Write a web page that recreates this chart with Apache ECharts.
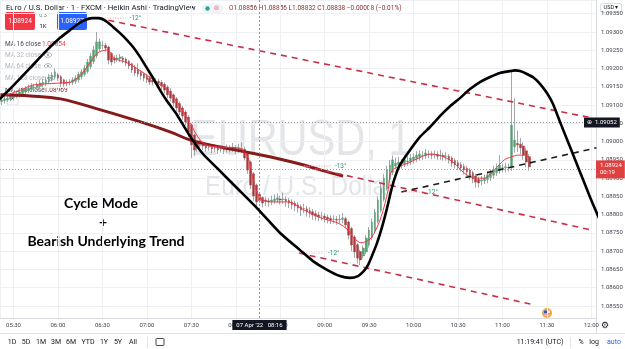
<!DOCTYPE html>
<html><head><meta charset="utf-8">
<script src="https://cdn.jsdelivr.net/npm/echarts/dist/echarts.min.js"></script>
<style>html,body{margin:0;padding:0;background:#fff;}#c{width:625px;height:349px;}</style>
</head><body><div id="c"></div>
<script>
// ---- Heikin Ashi candles (2-minute steps) ----
const candleTimes = [
"05:22","05:24","05:26","05:28","05:30","05:32","05:34","05:36","05:38","05:40",
"05:42","05:44","05:46","05:48","05:50","05:52","05:54","05:56","05:58","06:00",
"06:02","06:04","06:06","06:08","06:10","06:12","06:14","06:16","06:18","06:20",
"06:22","06:24","06:26","06:28","06:30","06:32","06:34","06:36","06:38","06:40",
"06:42","06:44","06:46","06:48","06:50","06:52","06:54","06:56","06:58","07:00",
"07:02","07:04","07:06","07:08","07:10","07:12","07:14","07:16","07:18","07:20",
"07:22","07:24","07:26","07:28","07:30","07:32","07:34","07:36","07:38","07:40",
"07:42","07:44","07:46","07:48","07:50","07:52","07:54","07:56","07:58","08:00",
"08:02","08:04","08:06","08:08","08:10","08:12","08:14","08:16","08:18","08:20",
"08:22","08:24","08:26","08:28","08:30","08:32","08:34","08:36","08:38","08:40",
"08:42","08:44","08:46","08:48","08:50","08:52","08:54","08:56","08:58","09:00",
"09:02","09:04","09:06","09:08","09:10","09:12","09:14","09:16","09:18","09:20",
"09:22","09:24","09:26","09:28","09:30","09:32","09:34","09:36","09:38","09:40",
"09:42","09:44","09:46","09:48","09:50","09:52","09:54","09:56","09:58","10:00",
"10:02","10:04","10:06","10:08","10:10","10:12","10:14","10:16","10:18","10:20",
"10:22","10:24","10:26","10:28","10:30","10:32","10:34","10:36","10:38","10:40",
"10:42","10:44","10:46","10:48","10:50","10:52","10:54","10:56","10:58","11:00",
"11:02","11:04","11:06","11:08","11:10","11:12","11:14","11:16","11:18"];
const haOpen = [
1.09110,1.09112,1.09114,1.09116,1.09120,1.09124,1.09127,1.09131,1.09136,1.09140,
1.09143,1.09147,1.09148,1.09151,1.09155,1.09159,1.09164,1.09170,1.09176,1.09183,
1.09178,1.09169,1.09163,1.09161,1.09162,1.09165,1.09169,1.09177,1.09184,1.09192,
1.09205,1.09219,1.09235,1.09254,1.09263,1.09263,1.09259,1.09241,1.09229,1.09226,
1.09227,1.09229,1.09226,1.09220,1.09213,1.09204,1.09196,1.09190,1.09185,1.09179,
1.09174,1.09168,1.09165,1.09165,1.09162,1.09157,1.09149,1.09138,1.09128,1.09117,
1.09104,1.09092,1.09081,1.09067,1.09046,1.09018,1.08997,1.08990,1.08990,1.08989,
1.08986,1.08985,1.08982,1.08982,1.08979,1.08979,1.08978,1.08980,1.08980,1.08982,
1.08979,1.08981,1.08979,1.08967,1.08944,1.08912,1.08881,1.08856,1.08847,1.08840,
1.08838,1.08836,1.08838,1.08840,1.08843,1.08841,1.08842,1.08839,1.08835,1.08831,
1.08827,1.08822,1.08817,1.08816,1.08811,1.08808,1.08803,1.08799,1.08796,1.08796,
1.08793,1.08790,1.08787,1.08787,1.08786,1.08787,1.08789,1.08780,1.08762,1.08739,
1.08718,1.08699,1.08687,1.08698,1.08717,1.08737,1.08758,1.08782,1.08811,1.08842,
1.08871,1.08896,1.08916,1.08933,1.08937,1.08940,1.08939,1.08944,1.08945,1.08950,
1.08954,1.08958,1.08962,1.08962,1.08965,1.08965,1.08964,1.08965,1.08962,1.08962,
1.08960,1.08960,1.08955,1.08948,1.08942,1.08937,1.08932,1.08927,1.08922,1.08915,
1.08906,1.08897,1.08892,1.08893,1.08896,1.08902,1.08908,1.08915,1.08921,1.08928,
1.08928,1.08929,1.08928,1.08986,1.08995,1.08993,1.08988,1.08975,1.08959];
const haClose = [
1.09114,1.09117,1.09119,1.09125,1.09128,1.09130,1.09136,1.09141,1.09144,1.09147,
1.09152,1.09149,1.09155,1.09160,1.09163,1.09169,1.09177,1.09182,1.09191,1.09174,
1.09160,1.09158,1.09160,1.09163,1.09169,1.09174,1.09185,1.09191,1.09201,1.09218,
1.09234,1.09251,1.09273,1.09273,1.09264,1.09256,1.09223,1.09218,1.09223,1.09229,
1.09232,1.09223,1.09215,1.09207,1.09196,1.09188,1.09185,1.09180,1.09174,1.09169,
1.09163,1.09163,1.09166,1.09160,1.09152,1.09141,1.09128,1.09119,1.09106,1.09092,
1.09081,1.09070,1.09054,1.09026,1.08991,1.08977,1.08983,1.08991,1.08988,1.08983,
1.08985,1.08980,1.08983,1.08977,1.08980,1.08977,1.08983,1.08980,1.08985,1.08977,
1.08983,1.08977,1.08955,1.08922,1.08881,1.08851,1.08835,1.08838,1.08832,1.08837,
1.08835,1.08840,1.08843,1.08846,1.08840,1.08843,1.08837,1.08832,1.08827,1.08824,
1.08818,1.08813,1.08816,1.08807,1.08805,1.08799,1.08796,1.08794,1.08796,1.08791,
1.08788,1.08785,1.08788,1.08785,1.08788,1.08791,1.08772,1.08744,1.08717,1.08698,
1.08681,1.08676,1.08709,1.08736,1.08758,1.08780,1.08807,1.08840,1.08873,1.08900,
1.08922,1.08936,1.08950,1.08941,1.08944,1.08939,1.08950,1.08947,1.08955,1.08958,
1.08963,1.08966,1.08963,1.08969,1.08966,1.08963,1.08966,1.08960,1.08963,1.08958,
1.08960,1.08950,1.08941,1.08936,1.08933,1.08928,1.08922,1.08917,1.08909,1.08898,
1.08889,1.08887,1.08895,1.08900,1.08909,1.08914,1.08922,1.08928,1.08936,1.08928,
1.08931,1.08928,1.09045,1.09004,1.08991,1.08983,1.08963,1.08944,1.08931];
const haLow = [
1.09100,1.09104,1.09108,1.09110,1.09112,1.09118,1.09120,1.09125,1.09130,1.09133,
1.09138,1.09140,1.09141,1.09144,1.09148,1.09152,1.09158,1.09164,1.09170,1.09166,
1.09150,1.09150,1.09152,1.09154,1.09155,1.09158,1.09162,1.09170,1.09178,1.09186,
1.09198,1.09212,1.09228,1.09248,1.09252,1.09246,1.09212,1.09208,1.09214,1.09218,
1.09218,1.09214,1.09206,1.09198,1.09188,1.09180,1.09176,1.09170,1.09165,1.09160,
1.09155,1.09154,1.09156,1.09150,1.09142,1.09132,1.09118,1.09110,1.09096,1.09082,
1.09072,1.09060,1.09044,1.09012,1.08955,1.08960,1.08972,1.08978,1.08976,1.08972,
1.08975,1.08968,1.08972,1.08966,1.08970,1.08966,1.08970,1.08970,1.08972,1.08966,
1.08970,1.08968,1.08948,1.08912,1.08870,1.08838,1.08820,1.08832,1.08820,1.08824,
1.08822,1.08826,1.08830,1.08832,1.08828,1.08830,1.08822,1.08818,1.08814,1.08810,
1.08806,1.08796,1.08804,1.08794,1.08792,1.08786,1.08784,1.08782,1.08784,1.08778,
1.08776,1.08774,1.08776,1.08772,1.08776,1.08776,1.08762,1.08732,1.08700,1.08682,
1.08666,1.08662,1.08680,1.08692,1.08710,1.08730,1.08752,1.08776,1.08806,1.08836,
1.08866,1.08890,1.08908,1.08926,1.08928,1.08926,1.08930,1.08934,1.08936,1.08940,
1.08944,1.08948,1.08950,1.08952,1.08954,1.08952,1.08954,1.08950,1.08950,1.08948,
1.08948,1.08940,1.08930,1.08926,1.08922,1.08918,1.08910,1.08906,1.08896,1.08886,
1.08874,1.08874,1.08880,1.08884,1.08886,1.08892,1.08898,1.08906,1.08912,1.08916,
1.08916,1.08918,1.08920,1.08970,1.08972,1.08966,1.08950,1.08930,1.08920];
const haHigh = [
1.09122,1.09125,1.09128,1.09133,1.09136,1.09140,1.09142,1.09148,1.09152,1.09156,
1.09160,1.09158,1.09162,1.09168,1.09172,1.09178,1.09185,1.09190,1.09200,1.09188,
1.09182,1.09172,1.09170,1.09171,1.09176,1.09182,1.09192,1.09198,1.09210,1.09226,
1.09242,1.09262,1.09300,1.09282,1.09275,1.09270,1.09262,1.09245,1.09236,1.09238,
1.09240,1.09234,1.09230,1.09224,1.09216,1.09210,1.09214,1.09196,1.09190,1.09186,
1.09180,1.09176,1.09174,1.09172,1.09168,1.09162,1.09154,1.09146,1.09132,1.09122,
1.09110,1.09098,1.09086,1.09072,1.09050,1.09022,1.09004,1.09006,1.08998,1.08996,
1.08995,1.08992,1.08992,1.08990,1.08988,1.08986,1.08992,1.08990,1.08996,1.08990,
1.08994,1.08998,1.08986,1.08972,1.08948,1.08916,1.08885,1.08856,1.08850,1.08848,
1.08846,1.08852,1.08856,1.08858,1.08852,1.08860,1.08850,1.08846,1.08842,1.08838,
1.08834,1.08828,1.08830,1.08824,1.08820,1.08816,1.08812,1.08808,1.08808,1.08804,
1.08800,1.08798,1.08798,1.08796,1.08800,1.08804,1.08794,1.08784,1.08766,1.08744,
1.08722,1.08704,1.08716,1.08744,1.08766,1.08790,1.08816,1.08850,1.08884,1.08912,
1.08934,1.08950,1.08962,1.08956,1.08958,1.08952,1.08962,1.08960,1.08966,1.08968,
1.08974,1.08976,1.08974,1.08980,1.08976,1.08974,1.08976,1.08974,1.08978,1.08970,
1.08972,1.08966,1.08960,1.08954,1.08950,1.08944,1.08940,1.08934,1.08928,1.08920,
1.08912,1.08904,1.08906,1.08910,1.08918,1.08924,1.08934,1.08940,1.08963,1.08940,
1.08942,1.08940,1.09196,1.09119,1.09030,1.09010,1.08998,1.08984,1.08966];

// ---- Moving averages (minutes of day, price) ----
const ma16Minutes = [321.2,325.9,334.7,343.5,359.7,368.5,375.3,382.0,386.8,393.5,397.6,407.1,417.9,427.4,434.1,440.8,449.6,454.4,459.8,469.9,481.4,488.2,492.2,497.0,503.7,515.2,526.0,537.5,549.0,555.8,559.8,564.5,571.3,578.1,582.8,584.8,589.5,596.3,605.1,611.9,620.6,627.4,634.2,640.9,647.7,654.4,661.2,665.9,670.7,674.7,679.4];
const ma16Values = [1.09122,1.09128,1.09141,1.09155,1.09160,1.09163,1.09182,1.09218,1.09243,1.09251,1.09229,1.09215,1.09188,1.09160,1.09141,1.09106,1.09048,1.09013,1.08991,1.08985,1.08983,1.08958,1.08887,1.08843,1.08835,1.08835,1.08813,1.08791,1.08777,1.08758,1.08736,1.08723,1.08736,1.08794,1.08868,1.08917,1.08931,1.08941,1.08958,1.08966,1.08958,1.08941,1.08914,1.08900,1.08900,1.08922,1.08950,1.08958,1.08963,1.08963,1.08952];
const ma256Minutes = [321.2,341.5,361.8,388.8,415.8,436.1,449.6,469.9,490.2,503.7,526.0,537.5,552.4];
const ma256Values = [1.09128,1.09125,1.09117,1.09087,1.09054,1.09026,1.09004,1.08985,1.08969,1.08958,1.08936,1.08922,1.08906];

// ---- Drawn cycle curve (minutes of day, price) ----
const cycleMinutes = [320.9,331.0,341.1,351.3,361.4,368.1,373.5,378.3,383.0,387.7,392.4,397.2,401.9,406.6,410.7,415.4,420.1,424.2,428.9,433.6,440.4,449.1,457.9,467.3,480.8,494.3,509.9,523.4,532.1,541.6,550.3,557.1,562.5,566.5,569.2,571.9,575.3,578.7,582.1,584.8,587.5,590.8,597.6,604.3,611.1,617.8,624.6,631.3,638.1,644.8,651.6,658.3,665.1,668.4,671.8,676.5,681.3,685.3,690.0,694.1,698.8,705.6,712.3,719.1,725.8,730.5];
const cyclePrices = [1.09117,1.09158,1.09201,1.09245,1.09284,1.09305,1.09322,1.09333,1.09338,1.09338,1.09330,1.09314,1.09297,1.09278,1.09259,1.09232,1.09201,1.09174,1.09141,1.09111,1.09073,1.09015,1.08966,1.08928,1.08873,1.08818,1.08750,1.08703,1.08673,1.08649,1.08632,1.08627,1.08632,1.08646,1.08662,1.08687,1.08722,1.08766,1.08818,1.08865,1.08903,1.08936,1.08977,1.09013,1.09040,1.09070,1.09097,1.09119,1.09144,1.09163,1.09177,1.09188,1.09193,1.09195,1.09193,1.09185,1.09174,1.09158,1.09133,1.09103,1.09054,1.08985,1.08917,1.08848,1.08785,1.08747];

// ---- Drawn trend lines ----
const upperTrendMinutes = [386.8, 720.0], upperTrendPrices = [1.09338, 1.09065];
const middleTrendMinutes = [526.0, 720.0], middleTrendPrices = [1.08933, 1.08758];
const lowerTrendMinutes = [522.6, 681.5], lowerTrendPrices = [1.08695, 1.08553];
const blackTrendMinutes = [591.6, 723.4], blackTrendPrices = [1.08862, 1.08983];
const angleLabels = ["-12°", "-13°", "-12°", "12°"];
const angleEndMinutes = [405.7, 544.2, 539.5, 607.1];

// ---- Price markers ----
const lastPrice = 1.08924, lastPriceTimer = "00:19";
const crossPrice = 1.09052, crossMinute = 496, crossLabel = "07 Apr '22   08:16";

const toMin = s => { const p = s.split(':').map(Number); return p[0]*60 + p[1]; };
const fmtTime = v => { const h = Math.floor(v/60), m = Math.round(v - h*60); return String(h).padStart(2,'0') + ':' + String(m).padStart(2,'0'); };
const pts = (xs, ys) => xs.map((x,i) => [x, ys[i]]);

const candles = candleTimes.map((t,i) => [toMin(t), haOpen[i], haClose[i], haLow[i], haHigh[i]]);
const bodies = candleTimes.map((t,i) => [toMin(t), haOpen[i], haClose[i], Math.min(haOpen[i],haClose[i]), Math.max(haOpen[i],haClose[i])]);

const UI = 'Roboto, "Noto Sans", sans-serif';
const RED_DASH = '#c73045';
function trend(xs, ys, color) {
  return { type:'line', data: pts(xs, ys), symbol:'none', silent:true, z:6,
    lineStyle:{ color, width:1.6, type:[6,5] } };
}
function angle(xStart, price, xEnd, text) {
  return { type:'line', data: [[xStart, price],[xEnd, price]], symbol:'none', silent:true, z:6,
    lineStyle:{ color:'#f29aa6', width:1, type:[1,1.5] },
    endLabel:{ show:true, formatter:text, color:'#1e9a68', fontSize:6.5, fontFamily:UI, distance:4 } };
}

const chart = echarts.init(document.getElementById('c'), null, {renderer:'canvas'});
const eye = (x,y) => ({ type:'group', x, y, children:[
  { type:'ellipse', shape:{cx:0, cy:0, rx:3.6, ry:2.3}, style:{fill:'none', stroke:'#9598a1', lineWidth:0.8} },
  { type:'circle', shape:{cx:0, cy:0, r:1.1}, style:{fill:'#9598a1'} } ] });
const txt = (x,y,text,opt,extra) => Object.assign({ type:'text', x, y, silent:true,
  style: Object.assign({ text, font:'6.5px ' + UI, fill:'#131722', verticalAlign:'middle', align:'left' }, opt || {}) }, extra || {});

chart.setOption({
  animation:false,
  backgroundColor:'#ffffff',
  grid:{ left:0, right:29, top:0, bottom:31, outerBoundsMode:'none', containLabel:false },
  xAxis:{ type:'value', min:320.9, max:723.1, splitNumber:14, minInterval:30, maxInterval:30,
    axisLine:{ show:true, lineStyle:{ color:'#d9dbe0', width:1 } }, axisTick:{ show:false },
    axisLabel:{ formatter: fmtTime, fontSize:6, color:'#434651', fontFamily:UI, margin:4, showMinLabel:false, showMaxLabel:false, hideOverlap:false },
    splitLine:{ show:true, lineStyle:{ color:'#eef0f3', width:1 } } },
  yAxis:{ type:'value', position:'right', min:1.085172, max:1.093876, splitNumber:17, minInterval:0.0005, maxInterval:0.0005,
    axisLine:{ show:true, lineStyle:{ color:'#d9dbe0', width:1 } }, axisTick:{ show:false },
    axisLabel:{ formatter: v => v.toFixed(5), fontSize:6, color:'#434651', fontFamily:UI, margin:5, showMinLabel:false, showMaxLabel:false },
    splitLine:{ show:true, lineStyle:{ color:'#eef0f3', width:1 } } },
  series:[
    { type:'candlestick', name:'wicks', data:candles, encode:{x:0, y:[1,2,3,4]}, barWidth:1, z:2, silent:true,
      itemStyle:{ color:'#a3a6ad', color0:'#a3a6ad', borderColor:'#a3a6ad', borderColor0:'#a3a6ad', borderWidth:1 } },
    { type:'candlestick', name:'bodies', data:bodies, encode:{x:0, y:[1,2,3,4]}, barWidth:2.2, z:3, silent:true,
      itemStyle:{ color:'#55a072', color0:'#a53c3c', borderColor:'#55a072', borderColor0:'#a53c3c', borderWidth:0.4 } },
    { type:'line', name:'MA 256', data:pts(ma256Minutes, ma256Values), smooth:0.4, symbol:'none', silent:true, z:4,
      lineStyle:{ color:'#861b1b', width:3 } },
    { type:'line', name:'MA 16', data:pts(ma16Minutes, ma16Values), smooth:0.3, symbol:'none', silent:true, z:4,
      lineStyle:{ color:'#f23645', width:1 },
      markLine:{ symbol:'none', silent:true, animation:false, precision:5, data:[
        { yAxis:lastPrice, lineStyle:{ color:'#f0808c', width:1, type:[1,2] },
          label:{ show:true, position:'end', distance:0, formatter: lastPrice.toFixed(5) + '\n' + lastPriceTimer,
            color:'#fff', backgroundColor:'#e0403f', padding:[2,3,2,4], fontSize:6, lineHeight:7, fontFamily:UI } },
        { yAxis:crossPrice, lineStyle:{ color:'#9598a1', width:1, type:[1,2] },
          label:{ show:true, position:'end', distance:0, offset:[-12,0], formatter:'⊕  ' + crossPrice.toFixed(5),
            color:'#fff', backgroundColor:'#131722', padding:[2,3,2,3], fontSize:6, fontFamily:UI } },
        { xAxis:crossMinute, lineStyle:{ color:'#9598a1', width:1, type:[2,2] },
          label:{ show:true, position:'start', distance:2, formatter:crossLabel,
            color:'#fff', backgroundColor:'#131722', padding:[2,4,2,4], fontSize:6, fontFamily:UI } }
      ] } },
    trend(upperTrendMinutes, upperTrendPrices, RED_DASH),
    trend(middleTrendMinutes, middleTrendPrices, RED_DASH),
    trend(lowerTrendMinutes, lowerTrendPrices, RED_DASH),
    trend(blackTrendMinutes, blackTrendPrices, '#1b1b1b'),
    angle(upperTrendMinutes[0], upperTrendPrices[0], angleEndMinutes[0], angleLabels[0]),
    angle(middleTrendMinutes[0], middleTrendPrices[0], angleEndMinutes[1], angleLabels[1]),
    angle(lowerTrendMinutes[0], lowerTrendPrices[0], angleEndMinutes[2], angleLabels[2]),
    angle(blackTrendMinutes[0], blackTrendPrices[0], angleEndMinutes[3], angleLabels[3]),
    { type:'line', name:'cycle', data:pts(cycleMinutes, cyclePrices), smooth:0.2, symbol:'none', silent:true, clip:false, z:8,
      lineStyle:{ color:'#000', width:2.6, join:'round', cap:'round' } }
  ],
  graphic:[
    // watermark
    txt(190, 141, 'EURUSD, 1', { font:'50px "Liberation Sans", Arial, sans-serif', fill:'#e4e5e8' }, { scaleX:0.83, z:0 }),
    txt(205, 188, 'Euro / U.S. Dollar', { font:'27px "Liberation Sans", Arial, sans-serif', fill:'#e4e5e8' }, { scaleX:0.9, z:0 }),
    // header
    txt(6, 8.5, 'Euro / U.S. Dollar · 1 · FXCM · Heikin Ashi · TradingView', { font:'7.8px ' + UI, fill:'#131722' }),
    { type:'rect', shape:{x:202, y:3.5, width:21, height:10, r:5}, style:{fill:'#f0f3fa'}, silent:true },
    { type:'circle', shape:{cx:207.5, cy:8.5, r:2.2}, style:{fill:'#22ab94'}, silent:true },
    txt(213.5, 8.5, '⊗', { font:'7px "DejaVu Sans"', fill:'#f77c80' }),
    txt(229, 8.5, 'O1.08856 H1.08856 L1.08832 C1.08838 −0.00008 (−0.01%)', { font:'6.5px ' + UI, fill:'#8a2f2f' }),
    { type:'rect', shape:{x:5, y:12, width:30, height:18, r:2}, style:{fill:'#f23645'}, silent:true },
    txt(20, 21, '1.08924', { font:'6.5px ' + UI, fill:'#fff', align:'center' }),
    txt(43, 16, '0.3', { font:'5.5px ' + UI, fill:'#787b86', align:'center' }),
    txt(43, 26, '1K', { font:'6px ' + UI, fill:'#131722', align:'center' }),
    { type:'rect', shape:{x:57, y:12, width:30, height:18, r:2}, style:{fill:'#2962ff'}, silent:true },
    txt(72, 21, '1.08927', { font:'6.5px ' + UI, fill:'#fff', align:'center' }),
    // legend
    txt(5, 44, 'MA 16 close', { fill:'#434651' }),
    txt(42, 44, '1.08854', { fill:'#f23645' }),
    txt(5, 55, 'MA 32 close', { fill:'#b2b5be' }), eye(48, 55),
    txt(5, 66, 'MA 64 close', { fill:'#b2b5be' }), eye(48, 66),
    txt(5, 78, 'MA 128 close', { fill:'#b2b5be' }), eye(51, 78),
    txt(5, 90, 'MA 256 close', { fill:'#434651' }),
    txt(44, 90, '1.08969', { fill:'#861b1b' }),
    { type:'rect', shape:{x:7, y:96, width:11, height:9, r:2}, style:{fill:'#fff', stroke:'#d1d4dc', lineWidth:0.8}, silent:true },
    txt(12.5, 101, '^', { font:'7px ' + UI, fill:'#131722', align:'center' }),
    // annotation
    txt(101, 203, 'Cycle Mode', { font:'bold 14px Lato, sans-serif', fill:'#000', align:'center' }),
    txt(103, 222, '+', { font:'bold 14px Lato, sans-serif', fill:'#000', align:'center' }),
    txt(106, 241, 'Bearish Underlying Trend', { font:'bold 14px Lato, sans-serif', fill:'#000', align:'center' }),
    // right top button
    { type:'rect', shape:{x:600.5, y:3.5, width:21, height:9, r:2}, style:{fill:'#fff', stroke:'#d1d4dc', lineWidth:0.8}, silent:true },
    txt(611, 8, 'USD ▾', { font:'5.5px ' + UI, fill:'#131722', align:'center' }),
    // flag
    { type:'circle', shape:{cx:547, cy:313, r:5}, style:{fill:'#f7a440'}, silent:true },
    { type:'rect', shape:{x:544, y:310.5, width:6, height:5}, style:{fill:'#e9eef8'}, silent:true },
    { type:'rect', shape:{x:544, y:310.5, width:3, height:2.5}, style:{fill:'#3556a8'}, silent:true },
    { type:'rect', shape:{x:544, y:313.5, width:6, height:1}, style:{fill:'#d93b3b'}, silent:true },
    // axis corner
    { type:'line', shape:{x1:596.5, y1:318, x2:596.5, y2:333}, style:{stroke:'#d9dbe0', lineWidth:1}, silent:true },
    { type:'rect', shape:{x:597, y:319, width:28, height:14}, style:{fill:'#fff'}, silent:true },
    txt(605, 326, '⚙', { font:'9px "DejaVu Sans"', fill:'#131722', align:'center' }),
    // bottom toolbar
    { type:'line', shape:{x1:0, y1:333.5, x2:625, y2:333.5}, style:{stroke:'#e0e3eb', lineWidth:1}, silent:true },
    txt(12, 342, '1D', { font:'7px ' + UI, align:'center' }),
    txt(26, 342, '5D', { font:'7px ' + UI, align:'center' }),
    txt(41, 342, '1M', { font:'7px ' + UI, align:'center' }),
    txt(56, 342, '3M', { font:'7px ' + UI, align:'center' }),
    txt(71, 342, '6M', { font:'7px ' + UI, align:'center' }),
    txt(88, 342, 'YTD', { font:'7px ' + UI, align:'center' }),
    txt(104, 342, '1Y', { font:'7px ' + UI, align:'center' }),
    txt(118, 342, '5Y', { font:'7px ' + UI, align:'center' }),
    txt(133, 342, 'All', { font:'7px ' + UI, align:'center' }),
    { type:'line', shape:{x1:147.5, y1:337, x2:147.5, y2:348}, style:{stroke:'#e0e3eb', lineWidth:1}, silent:true },
    { type:'rect', shape:{x:156, y:338.5, width:8, height:7, r:1}, style:{fill:'none', stroke:'#131722', lineWidth:0.8}, silent:true },
    txt(540, 342, '11:19:41 (UTC)', { font:'7px ' + UI, align:'center' }),
    { type:'line', shape:{x1:570.5, y1:337, x2:570.5, y2:348}, style:{stroke:'#e0e3eb', lineWidth:1}, silent:true },
    txt(581, 342, '%', { font:'7px ' + UI, align:'center' }),
    txt(594, 342, 'log', { font:'7px ' + UI, align:'center' }),
    txt(614, 342, 'auto', { font:'7px ' + UI, fill:'#2962ff', align:'center' })
  ]
});
</script></body></html>
